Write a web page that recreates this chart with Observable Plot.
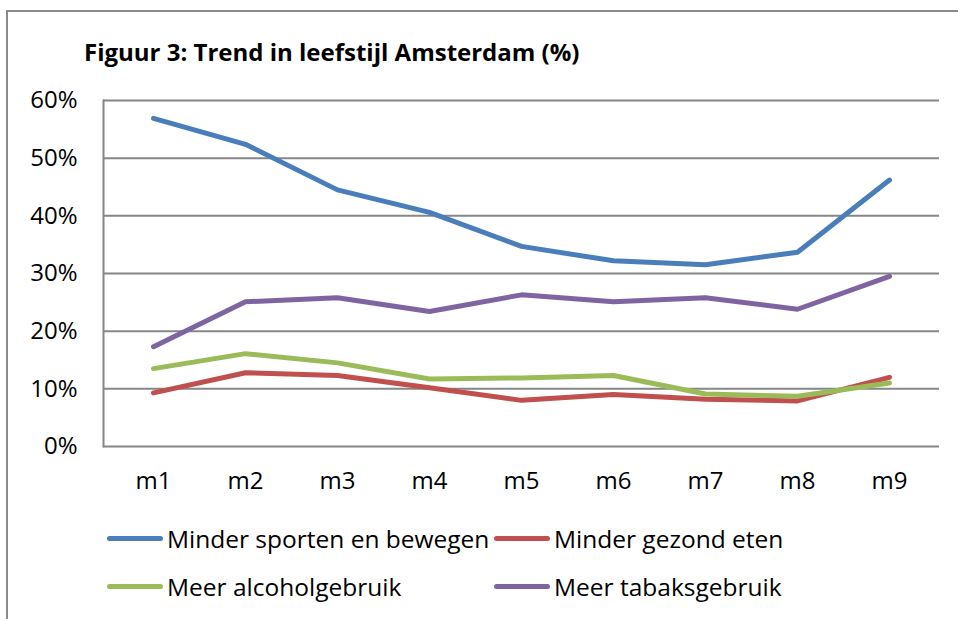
<!DOCTYPE html>
<html>
<head>
<meta charset="utf-8">
<script src="https://cdn.jsdelivr.net/npm/d3@7"></script>
<script src="https://cdn.jsdelivr.net/npm/@observablehq/plot@0.6"></script>
<style>
  body { margin: 0; background: #fff; }
  #fig { position: relative; width: 958px; height: 619px; overflow: hidden; font-family: "Open Sans", Lato, sans-serif; color: #000; }
  #frame { position: absolute; left: 6px; top: 10px; width: 960px; height: 620px; border-left: 2px solid #8a8a8a; border-top: 2px solid #8a8a8a; }
  #title { position: absolute; left: 84px; top: 35px; font-weight: bold; font-size: 24px; white-space: nowrap; }
  #chart { position: absolute; left: 0; top: 80px; }
  .leg { position: absolute; display: flex; align-items: center; font-size: 24.5px; white-space: nowrap; }
  .sw { width: 56px; height: 5px; border-radius: 3px; margin-right: 4px; }
</style>
</head>
<body>
<div id="fig">
  <div id="frame"></div>
  <div id="title">Figuur 3: Trend in leefstijl Amsterdam (%)</div>
  <div id="chart"></div>
  <div id="legend"></div>
</div>
<script>
const months = ["m1","m2","m3","m4","m5","m6","m7","m8","m9"];
const seriesNames = ["Minder sporten en bewegen","Minder gezond eten","Meer alcoholgebruik","Meer tabaksgebruik"];
const seriesColors = ["#4a7ebb","#c0504d","#9bbb59","#8064a2"];
const sporten = [56.9, 52.4, 44.5, 40.6, 34.7, 32.2, 31.5, 33.7, 46.2];
const eten = [9.3, 12.8, 12.3, 10.2, 8.0, 9.0, 8.2, 7.9, 12.0];
const alcohol = [13.5, 16.1, 14.5, 11.7, 11.9, 12.3, 9.1, 8.7, 11.0];
const tabak = [17.3, 25.1, 25.8, 23.4, 26.3, 25.1, 25.8, 23.8, 29.5];
const yTicks = [0, 0.1, 0.2, 0.3, 0.4, 0.5, 0.6];

const seriesValues = [sporten, eten, alcohol, tabak];
const data = [];
seriesNames.forEach((name, i) => {
  months.forEach((m, j) => data.push({series: name, month: m, value: seriesValues[i][j] / 100}));
});

const chart = Plot.plot({
  width: 958,
  height: 430,
  marginLeft: 103,
  marginRight: 19,
  marginTop: 20,
  marginBottom: 64,
  style: {fontFamily: "'Open Sans', Lato, sans-serif", fontSize: "24px", color: "#000", background: "transparent"},
  x: {type: "point", domain: months, padding: 0.5, label: null},
  y: {domain: [0, 0.6], ticks: yTicks, tickFormat: d3.format(".0%"), label: null},
  color: {domain: seriesNames, range: seriesColors},
  marks: [
    Plot.ruleY(yTicks, {stroke: "#868686", strokeWidth: 2, strokeOpacity: 1}),
    Plot.frame({anchor: "left", stroke: "#868686", strokeWidth: 2, strokeOpacity: 1}),
    Plot.axisY({ticks: yTicks, tickFormat: d3.format(".0%"), tickSize: 0, tickPadding: 26, fontSize: 24}),
    Plot.axisX({tickSize: 0, tickPadding: 25, fontSize: 24}),
    Plot.line(data, {x: "month", y: "value", z: "series", stroke: "series", strokeWidth: 5, strokeLinecap: "round", strokeLinejoin: "round"})
  ]
});
document.getElementById("chart").appendChild(chart);

const legend = document.getElementById("legend");
const pos = [[107, 540], [494, 540], [107, 588], [494, 588]];
seriesNames.forEach((name, i) => {
  const el = document.createElement("div");
  el.className = "leg";
  el.style.left = pos[i][0] + "px";
  el.style.top = (pos[i][1] - 18) + "px";
  el.innerHTML = `<div class="sw" style="background:${seriesColors[i]}"></div><span>${name}</span>`;
  legend.appendChild(el);
});
</script>
</body>
</html>
